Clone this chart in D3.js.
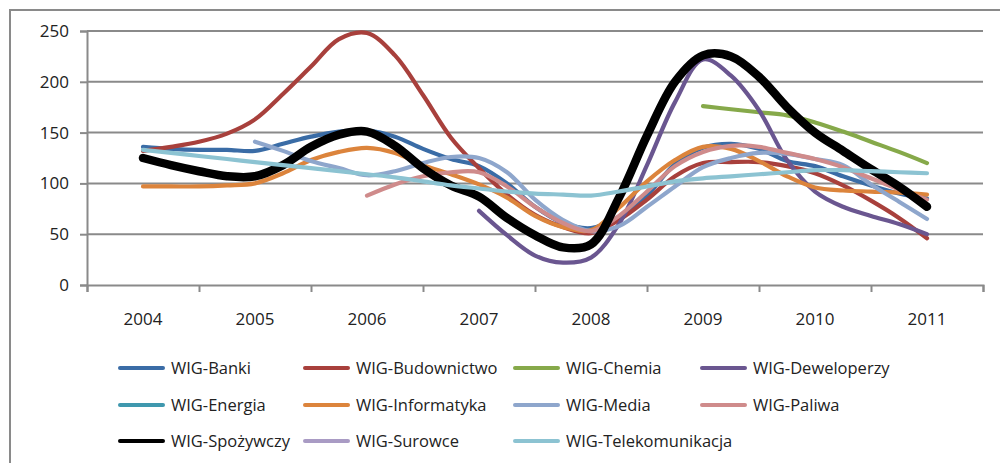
<!DOCTYPE html>
<html>
<head>
<meta charset="utf-8">
<script src="https://cdn.jsdelivr.net/npm/d3@7"></script>
<style>
  html, body { margin: 0; padding: 0; background: #fff; }
  svg { display: block; }
  text { font-family: "Open Sans", "Noto Sans", sans-serif; fill: #222; }
</style>
</head>
<body>
<svg id="chart" width="1000" height="463"></svg>
<script>
// ---- data ----
const years = [2004, 2005, 2006, 2007, 2008, 2009, 2010, 2011];
const yTicks = [0, 50, 100, 150, 200, 250];
// quarterly sample positions (fractional years)
const quarters = [2004, 2004.25, 2004.5, 2004.75, 2005, 2005.25, 2005.5, 2005.75,
  2006, 2006.25, 2006.5, 2006.75, 2007, 2007.25, 2007.5, 2007.75,
  2008, 2008.25, 2008.5, 2008.75, 2009, 2009.25, 2009.5, 2009.75,
  2010, 2010.25, 2010.5, 2010.75, 2011];
const _ = null;
const banki = [136,134,133,133,132,139,146,151,152,146,134,124,117,100,77,61,56,67,88,119,135,139,134,122,117,107,98,90,85];
const budownictwo = [132,136,141,149,163,188,215,242,248,226,187,145,115,89,69,57,51,64,84,107,120,121,121,117,110,98,83,66,46];
const chemia = [_,_,_,_,_,_,_,_,_,_,_,_,_,_,_,_,_,_,_,_,176,173,170,167,160,151,141,131,120];
const deweloperzy = [_,_,_,_,_,_,_,_,_,_,_,_,73,49,29,22,27,60,118,180,222,206,172,123,92,77,68,60,50];
const energia = [];
const informatyka = [97,97,97,98,100,110,123,131,135,130,118,109,99,86,68,57,54,76,102,123,136,134,122,107,96,93,92,91,89];
const media = [_,_,_,_,141,132,122,115,108,112,120,126,125,111,84,64,53,58,77,97,116,125,130,129,124,118,99,82,65];
const paliwa = [_,_,_,_,_,_,_,_,88,99,107,111,111,97,77,61,53,68,92,117,131,137,136,130,124,116,105,94,84];
const spozywczy = [125,118,112,107,107,118,136,148,151,137,115,98,87,66,49,37,40,86,147,200,226,225,205,175,150,132,114,97,77];
const surowce = [];
const telekomunikacja = [133,130,127,124,121,118,115,112,109,106,102,98,95,92,90,89,88,92,97,102,105,107,109,111,113,113,112,111,110];

const seriesNames = ["WIG-Banki","WIG-Budownictwo","WIG-Chemia","WIG-Deweloperzy","WIG-Energia","WIG-Informatyka","WIG-Media","WIG-Paliwa","WIG-Spożywczy","WIG-Surowce","WIG-Telekomunikacja"];
const seriesValues = [banki, budownictwo, chemia, deweloperzy, energia, informatyka, media, paliwa, spozywczy, surowce, telekomunikacja];
const seriesColors = ["#3a6ca6","#a8403c","#86a94a","#6a5690","#3f98ae","#dc843c","#8ea6cc","#cf8b8b","#000000","#a99bc4","#8cc3d2"];

// ---- layout ----
const svg = d3.select("#chart");
const plotL = 87, plotR = 983, plotT = 31, plotB = 285;
const x = d3.scaleLinear().domain([years[0] - 0.5, years[years.length - 1] + 0.5]).range([plotL, plotR]);
const y = d3.scaleLinear().domain([0, 250]).range([plotB, plotT]);
const gridColor = "#8a8a8a";

// outer frame
svg.append("rect").attr("x", 10).attr("y", 10).attr("width", 1000).attr("height", 470)
  .attr("fill", "none").attr("stroke", gridColor).attr("stroke-width", 2);

// gridlines
svg.append("g").selectAll("line").data(yTicks.filter(d => d > 0)).join("line")
  .attr("x1", plotL).attr("x2", plotR)
  .attr("y1", d => y(d)).attr("y2", d => y(d))
  .attr("stroke", gridColor).attr("stroke-width", 2);

// y axis
const yAxis = svg.append("g").attr("transform", `translate(${plotL},0)`)
  .call(d3.axisLeft(y).tickValues(yTicks).tickSize(7).tickPadding(11).tickFormat(d3.format("d")));
yAxis.select(".domain").attr("stroke", gridColor).attr("stroke-width", 2);
yAxis.selectAll(".tick line").attr("stroke", gridColor).attr("stroke-width", 2);
yAxis.selectAll("text").attr("font-size", 17).attr("fill", "#222").attr("font-family", "Open Sans, sans-serif");

// x axis (ticks at category boundaries)
const bounds = years.map(d => d - 0.5).concat([years[years.length - 1] + 0.5]);
const xAxis = svg.append("g").attr("transform", `translate(0,${plotB})`)
  .call(d3.axisBottom(x).tickValues(bounds).tickSize(7).tickFormat(""));
xAxis.select(".domain").attr("stroke", gridColor).attr("stroke-width", 2);
xAxis.selectAll(".tick line").attr("stroke", gridColor).attr("stroke-width", 2);
svg.append("g").selectAll("text").data(years).join("text")
  .attr("x", d => x(d)).attr("y", 325)
  .attr("text-anchor", "middle").attr("font-size", 17)
  .text(d => d);

// lines
const line = d3.line()
  .defined(d => d.v !== null && d.v !== undefined)
  .x(d => x(d.t)).y(d => y(d.v))
  .curve(d3.curveCatmullRom.alpha(0.5));
seriesNames.forEach((name, i) => {
  const vals = seriesValues[i];
  if (!vals.length) return;
  const pts = quarters.map((t, k) => ({ t, v: vals[k] }));
  svg.append("path").datum(pts)
    .attr("d", line)
    .attr("fill", "none")
    .attr("stroke", seriesColors[i])
    .attr("stroke-width", name === "WIG-Spożywczy" ? 8.5 : 4.2)
    .attr("stroke-linejoin", "round").attr("stroke-linecap", "round");
});

// legend
const colX = [120, 305, 515, 702];
const rowY = [368, 405, 441];
const leg = svg.append("g");
seriesNames.forEach((name, i) => {
  const cx = colX[i % 4], cy = rowY[Math.floor(i / 4)];
  leg.append("line").attr("x1", cx).attr("x2", cx + 43).attr("y1", cy).attr("y2", cy)
    .attr("stroke", seriesColors[i]).attr("stroke-width", 4).attr("stroke-linecap", "round");
  leg.append("text").attr("x", cx + 51).attr("y", cy).attr("dy", "0.35em")
    .attr("font-size", 16.5).text(name);
});
</script>
</body>
</html>
